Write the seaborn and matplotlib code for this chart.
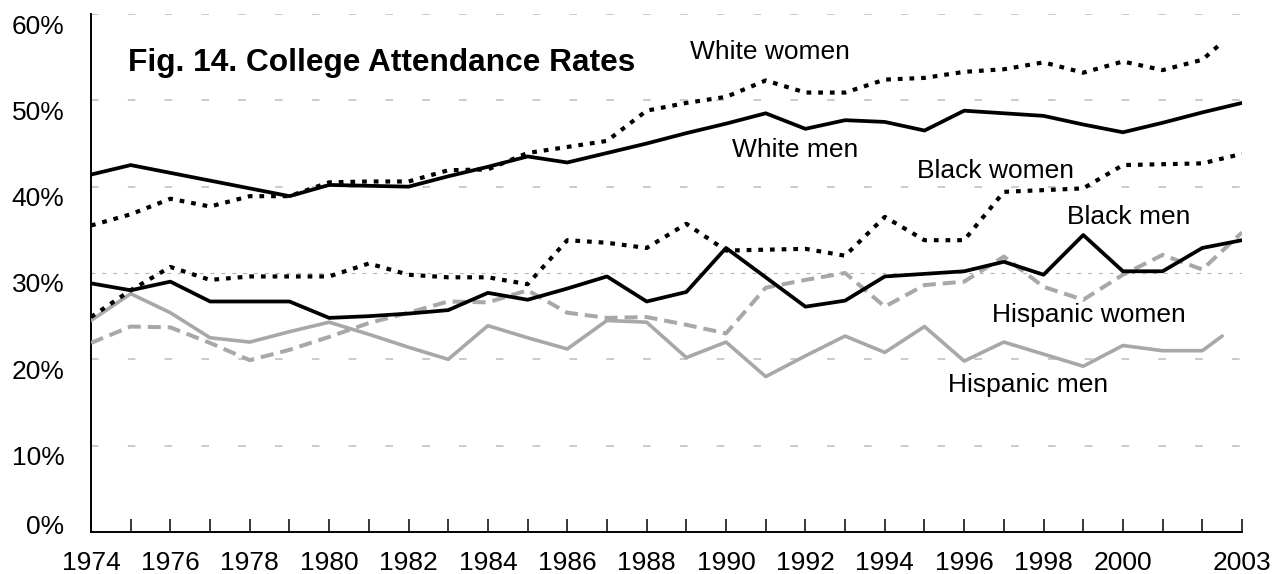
import matplotlib
matplotlib.use('Agg')
import matplotlib.pyplot as plt
import matplotlib.transforms as mtransforms
import seaborn as sns
import pandas as pd

# years on the x axis; white women and hispanic men end a little short of 2003
years = list(range(1974, 2004))
years_short = years[:-1] + [2002.5]

white_men = [41.4, 42.5, 41.6, 40.7, 39.8, 38.9, 40.2, 40.1, 40.0, 41.2,
             42.3, 43.5, 42.8, 43.9, 45.0, 46.2, 47.3, 48.5, 46.7, 47.7,
             47.5, 46.5, 48.8, 48.5, 48.2, 47.2, 46.3, 47.4, 48.6, 49.7]
white_women = [35.5, 36.8, 38.6, 37.7, 38.9, 38.9, 40.5, 40.6, 40.6, 41.9,
               42.0, 43.9, 44.6, 45.3, 48.8, 49.7, 50.4, 52.3, 50.9, 50.9,
               52.4, 52.6, 53.3, 53.6, 54.4, 53.2, 54.5, 53.5, 54.7, 56.7]
black_men = [28.8, 28.0, 29.0, 26.7, 26.7, 26.7, 24.8, 25.0, 25.3, 25.7,
             27.7, 26.9, 28.2, 29.6, 26.7, 27.8, 32.9, 29.5, 26.1, 26.8,
             29.6, 29.9, 30.2, 31.3, 29.8, 34.4, 30.2, 30.2, 32.9, 33.8]
black_women = [24.9, 28.0, 30.7, 29.2, 29.6, 29.6, 29.6, 31.1, 29.8, 29.5,
               29.5, 28.7, 33.8, 33.5, 32.9, 35.7, 32.6, 32.7, 32.8, 32.0,
               36.5, 33.8, 33.8, 39.4, 39.6, 39.8, 42.5, 42.6, 42.7, 43.8]
hispanic_men = [24.5, 27.6, 25.4, 22.5, 22.0, 23.2, 24.3, 22.9, 21.4, 20.0,
                23.9, 22.5, 21.2, 24.5, 24.3, 20.2, 22.0, 18.0, 20.4, 22.7,
                20.8, 23.8, 19.8, 22.0, 20.6, 19.2, 21.6, 21.0, 21.0, 22.7]
hispanic_women = [21.9, 23.8, 23.7, 21.9, 19.9, 21.1, 22.6, 24.2, 25.4, 26.7,
                  26.6, 28.0, 25.4, 24.8, 24.9, 24.0, 23.0, 28.3, 29.2, 30.0,
                  26.1, 28.6, 29.0, 31.9, 28.4, 26.9, 29.8, 32.1, 30.4, 34.7]

x_tick_labels = [1974, 1976, 1978, 1980, 1982, 1984, 1986, 1988, 1990,
                 1992, 1994, 1996, 1998, 2000, 2003]
y_ticks = [0, 10, 20, 30, 40, 50, 60]

sns.set_theme(style='white')
plt.rcParams['font.family'] = ['Liberation Sans', 'DejaVu Sans']
plt.rcParams['lines.scale_dashes'] = False
plt.rcParams['text.color'] = 'black'
plt.rcParams['xtick.color'] = 'black'
plt.rcParams['ytick.color'] = 'black'
plt.rcParams['xtick.labelcolor'] = 'black'
plt.rcParams['ytick.labelcolor'] = 'black'

fig = plt.figure(figsize=(12.78, 5.74), dpi=100)
ax = fig.add_axes([91 / 1278, 42 / 574, 1151 / 1278, 518 / 574])

# gridlines (the 30% one is finer)
for y in y_ticks[1:]:
    if y == 30:
        ax.axhline(y, color='#b4b4b4', lw=0.8, ls=(0, (2.8, 5.0)), zorder=1)
    else:
        ax.axhline(y, color='#bcbcbc', lw=1.1, ls=(0, (5.5, 21)), zorder=1)

gray = '#a8a8a8'
series = [
    ('Hispanic men', years_short, hispanic_men, gray, '-', 2.6),
    ('Hispanic women', years, hispanic_women, gray, (0, (9.4, 5.0)), 2.9),
    ('Black women', years, black_women, 'black', (0, (3.4, 5.0)), 3.0),
    ('White women', years_short, white_women, 'black', (0, (3.4, 5.0)), 3.0),
    ('Black men', years, black_men, 'black', '-', 2.7),
    ('White men', years, white_men, 'black', '-', 2.7),
]
for name, xs, vals, col, ls, lw in series:
    df = pd.DataFrame({'year': xs, 'rate': vals})
    sns.lineplot(data=df, x='year', y='rate', ax=ax, color=col,
                 linestyle=ls, linewidth=lw, zorder=3)

ax.set_xlim(1974, 2003)
ax.set_ylim(0, 60)
ax.set_xlabel('')
ax.set_ylabel('')

ax.set_xticks(years)
ax.set_xticklabels([str(y) if y in x_tick_labels else '' for y in years])
ax.set_yticks(y_ticks)
ax.set_yticklabels([f'{y}%' for y in y_ticks])

ax.tick_params(axis='x', direction='in', length=9.5, width=1.1,
               color='black', labelcolor='black', labelsize=19, pad=14,
               bottom=True)
ax.tick_params(axis='y', length=0, labelsize=19, pad=19, labelcolor='black')

# y labels sit a little below their gridlines, 0% a little above the axis
for lab, y in zip(ax.get_yticklabels(), y_ticks):
    dy = 7 if y == 0 else -10
    lab.set_transform(lab.get_transform() +
                      mtransforms.ScaledTranslation(0, dy / 100, fig.dpi_scale_trans))

for side in ['top', 'right']:
    ax.spines[side].set_visible(False)
for side in ['left', 'bottom']:
    ax.spines[side].set_color('black')
    ax.spines[side].set_linewidth(1.4)

ax.text(1974.93, 54.3, 'Fig. 14. College Attendance Rates', fontsize=22.8,
        fontweight='bold', ha='left', va='center', color='black')
label_pos = [
    ('White women', 1989.1, 55.6),
    ('White men', 1990.15, 44.3),
    ('Black women', 1994.8, 41.8),
    ('Black men', 1998.6, 36.5),
    ('Hispanic women', 1996.7, 25.1),
    ('Hispanic men', 1995.6, 17.0),
]
for txt, x, y in label_pos:
    ax.text(x, y, txt, fontsize=19, ha='left', va='center', color='black')

fig.savefig('out.png', dpi=100)
